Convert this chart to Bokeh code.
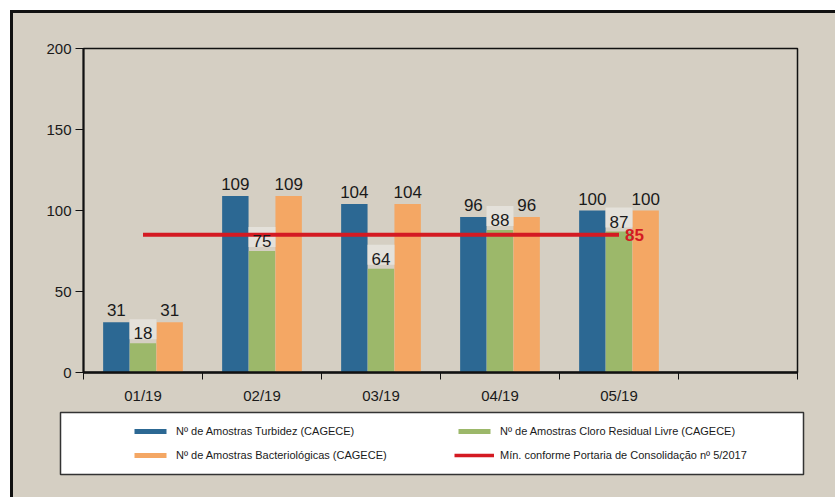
from bokeh.plotting import figure
from bokeh.layouts import column
from bokeh.models import Range1d, FixedTicker, Legend, LegendItem, ColumnDataSource
from bokeh.transform import dodge
from bokeh.embed import file_html
from bokeh.resources import INLINE
from bokeh.core.properties import value
import numpy as np

# ---- data ----
months = ["01/19", "02/19", "03/19", "04/19", "05/19"]
turbidez = [31, 109, 104, 96, 100]
cloro = [18, 75, 64, 88, 87]
bacteriologicas = [31, 109, 104, 96, 100]
minimo = [85, 85, 85, 85, 85]
n_slots = 6
y_ticks = [0, 50, 100, 150, 200]
series_names = [
    "Nº de Amostras Turbidez (CAGECE)",
    "Nº de Amostras Cloro Residual Livre (CAGECE)",
    "Nº de Amostras Bacteriológicas (CAGECE)",
    "Mín. conforme Portaria de Consolidação nº 5/2017",
]

# ---- style ----
BLUE = "#2c6893"
GREEN = "#9cb86a"
ORANGE = "#f4a764"
RED = "#d41a22"
BEIGE = "#d5cfc3"
LBLBOX = "#e4e1da"
FONT = "Liberation Sans"
TXT = "#1a1a1a"

W = 822
H1, H2 = 396, 88
xc = np.arange(len(months)) + 0.5

src = ColumnDataSource(dict(
    x=xc, month=months,
    turb=turbidez, cloro=cloro, bact=bacteriologicas, minimo=minimo,
    turb_l=[str(v) for v in turbidez],
    cloro_l=[str(v) for v in cloro],
    bact_l=[str(v) for v in bacteriologicas],
))

p = figure(width=W, height=H1, output_backend="svg", toolbar_location=None,
           x_range=Range1d(0, n_slots), y_range=Range1d(0, 200),
           min_border_left=70, min_border_right=38, min_border_top=35, min_border_bottom=37)
p.frame_align = False
p.background_fill_color = BEIGE
p.border_fill_color = BEIGE
p.outline_line_color = "#111"
p.outline_line_width = 1.5
p.xgrid.visible = False
p.ygrid.visible = False

off = 0.224
bw = 0.222
p.vbar(x=dodge("x", -off), top="turb", width=bw, source=src, fill_color=BLUE, line_color=None)
p.vbar(x=dodge("x", 0), top="cloro", width=bw, source=src, fill_color=GREEN, line_color=None)
p.vbar(x=dodge("x", off), top="bact", width=bw, source=src, fill_color=ORANGE, line_color=None)

# light label boxes of the green series (text itself drawn later, above the line)
lbl_kw = dict(text_align="center", text_baseline="bottom", text_font=value(FONT),
              text_font_size="17px")
p.text(x=dodge("x", 0), y="cloro", text="cloro_l", source=src, y_offset=-4,
       text_alpha=0, background_fill_color=LBLBOX, background_fill_alpha=1.0,
       padding=4, **lbl_kw)

p.line(x="x", y="minimo", source=src, line_color=RED, line_width=4)

for fld, lbl, dx, yo in [("turb", "turb_l", -off, -6), ("cloro", "cloro_l", 0, -4),
                         ("bact", "bact_l", off, -6)]:
    p.text(x=dodge("x", dx), y=fld, text=lbl, source=src, y_offset=yo,
           text_color=TXT, **lbl_kw)

p.text(x=[xc[-1]], y=[minimo[-1]], text=[str(minimo[-1])], x_offset=6,
       text_baseline="middle", text_align="left", text_font=value(FONT),
       text_font_size="17px", text_font_style="bold", text_color=RED)

# axes
xa = p.xaxis[0]
xa.ticker = FixedTicker(ticks=list(xc), minor_ticks=list(range(n_slots + 1)))
xa.major_label_overrides = {float(x): m for x, m in zip(xc, months)}
xa.major_tick_line_color = None
xa.major_tick_out = 0
xa.major_tick_in = 0
xa.minor_tick_line_color = "#111"
xa.minor_tick_out = 7
xa.minor_tick_in = 0
xa.axis_line_color = "#111"
xa.axis_line_width = 2.5
xa.major_label_standoff = 7
xa.major_label_text_font = FONT
xa.major_label_text_font_size = "15px"
xa.major_label_text_color = TXT

ya = p.yaxis[0]
ya.ticker = FixedTicker(ticks=y_ticks)
ya.major_tick_out = 8
ya.major_tick_in = 0
ya.major_tick_line_color = "#111"
ya.minor_tick_line_color = None
ya.axis_line_color = "#111"
ya.axis_line_width = 2
ya.major_label_standoff = 4
ya.major_label_text_font = FONT
ya.major_label_text_font_size = "15px"
ya.major_label_text_color = TXT

# legend panel (white box); hidden series renderers only key the legend
q = figure(width=W, height=H2, output_backend="svg", toolbar_location=None,
           x_range=Range1d(0, n_slots), y_range=Range1d(0, 200),
           x_axis_location=None, y_axis_location=None,
           min_border_left=47, min_border_right=32, min_border_top=3, min_border_bottom=23)
q.frame_align = False
q.background_fill_color = "white"
q.border_fill_color = BEIGE
q.outline_line_color = "#333"
q.outline_line_width = 1.5
q.xgrid.visible = False
q.ygrid.visible = False

k_turb = q.vbar(x="x", top="turb", width=bw, source=src, fill_color=BLUE, line_color=None, visible=False)
k_cloro = q.vbar(x="x", top="cloro", width=bw, source=src, fill_color=GREEN, line_color=None, visible=False)
k_bact = q.vbar(x="x", top="bact", width=bw, source=src, fill_color=ORANGE, line_color=None, visible=False)
k_min = q.line(x="x", y="minimo", source=src, line_color=RED, line_width=3.5, visible=False)

legend = Legend(items=[
    LegendItem(label=series_names[0], renderers=[k_turb]),
    LegendItem(label=series_names[1], renderers=[k_cloro]),
    LegendItem(label=series_names[2], renderers=[k_bact]),
    LegendItem(label=series_names[3], renderers=[k_min]),
], orientation="horizontal", ncols=2, location=(70, 12),
    padding=0, spacing=10, margin=0,
    glyph_width=40, glyph_height=6, label_height=14, label_width=268,
    label_standoff=6, label_text_font=FONT, label_text_font_size="11px",
    label_text_color=TXT, border_line_color=None, background_fill_alpha=0,
    inactive_fill_alpha=0, click_policy="none")
q.add_layout(legend, "center")

layout = column(p, q, spacing=0)
layout.styles = {"border-left": "3px solid #111", "border-top": "3px solid #111",
                 "margin-left": "10px", "margin-top": "10px", "background-color": BEIGE}

open("out.html", "w").write(file_html(layout, INLINE))
